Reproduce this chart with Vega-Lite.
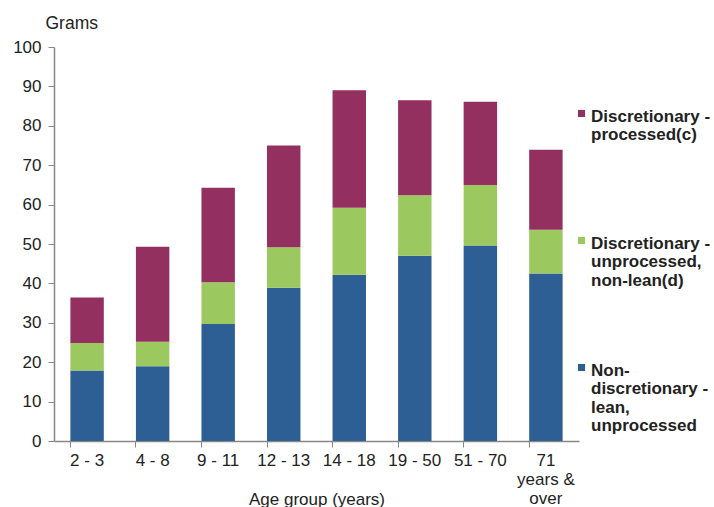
{
  "$schema": "https://vega.github.io/schema/vega-lite/v6.json",
  "width": 525,
  "height": 394,
  "autosize": {"type": "none"},
  "padding": {"left": 54, "top": 47, "right": 135, "bottom": 66},
  "background": "white",
  "config": {
    "view": {"stroke": null},
    "font": "Liberation Sans",
    "style": {"guide-label": {"lineHeight": 18.5}}
  },
  "data": {
    "values": [
      {"age": "2 - 3", "type": "Non-discretionary - lean, unprocessed", "grams": 17.9},
      {"age": "2 - 3", "type": "Discretionary - unprocessed, non-lean(d)", "grams": 7.0},
      {"age": "2 - 3", "type": "Discretionary - processed(c)", "grams": 11.5},
      {"age": "4 - 8", "type": "Non-discretionary - lean, unprocessed", "grams": 19.0},
      {"age": "4 - 8", "type": "Discretionary - unprocessed, non-lean(d)", "grams": 6.2},
      {"age": "4 - 8", "type": "Discretionary - processed(c)", "grams": 24.1},
      {"age": "9 - 11", "type": "Non-discretionary - lean, unprocessed", "grams": 29.7},
      {"age": "9 - 11", "type": "Discretionary - unprocessed, non-lean(d)", "grams": 10.6},
      {"age": "9 - 11", "type": "Discretionary - processed(c)", "grams": 24.0},
      {"age": "12 - 13", "type": "Non-discretionary - lean, unprocessed", "grams": 38.9},
      {"age": "12 - 13", "type": "Discretionary - unprocessed, non-lean(d)", "grams": 10.3},
      {"age": "12 - 13", "type": "Discretionary - processed(c)", "grams": 25.8},
      {"age": "14 - 18", "type": "Non-discretionary - lean, unprocessed", "grams": 42.2},
      {"age": "14 - 18", "type": "Discretionary - unprocessed, non-lean(d)", "grams": 17.0},
      {"age": "14 - 18", "type": "Discretionary - processed(c)", "grams": 29.8},
      {"age": "19 - 50", "type": "Non-discretionary - lean, unprocessed", "grams": 47.0},
      {"age": "19 - 50", "type": "Discretionary - unprocessed, non-lean(d)", "grams": 15.4},
      {"age": "19 - 50", "type": "Discretionary - processed(c)", "grams": 24.1},
      {"age": "51 - 70", "type": "Non-discretionary - lean, unprocessed", "grams": 49.6},
      {"age": "51 - 70", "type": "Discretionary - unprocessed, non-lean(d)", "grams": 15.4},
      {"age": "51 - 70", "type": "Discretionary - processed(c)", "grams": 21.1},
      {"age": "71 years & over", "type": "Non-discretionary - lean, unprocessed", "grams": 42.5},
      {"age": "71 years & over", "type": "Discretionary - unprocessed, non-lean(d)", "grams": 11.1},
      {"age": "71 years & over", "type": "Discretionary - processed(c)", "grams": 20.3}
    ]
  },
  "mark": {"type": "bar"},
  "encoding": {
    "x": {
      "field": "age",
      "type": "nominal",
      "sort": null,
      "scale": {"paddingInner": 0.49, "paddingOuter": 0.25},
      "axis": {
        "title": "Age group (years)",
        "titleFont": "Liberation Sans",
        "titleFontSize": 17,
        "titleFontWeight": "normal",
        "titleColor": "#222",
        "titleBaseline": "alphabetic",
        "titleY": 63,
        "labelAngle": 0,
        "labelFont": "Liberation Sans",
        "labelFontSize": 17,
        "labelColor": "#222",
        "labelPadding": 5,
        "labelLineHeight": 19,
        "labelExpr": "datum.label == '71 years & over' ? ['71', 'years &', 'over'] : datum.label",
        "bandPosition": 0,
        "tickSize": 6,
        "tickColor": "#888",
        "domainColor": "#888",
        "domainWidth": 1.5,
        "grid": false
      }
    },
    "y": {
      "field": "grams",
      "type": "quantitative",
      "aggregate": "sum",
      "stack": "zero",
      "scale": {"domain": [0, 100], "nice": false},
      "axis": {
        "title": "Grams",
        "titleAngle": 0,
        "titleAlign": "left",
        "titleBaseline": "alphabetic",
        "titleX": -9,
        "titleY": -19,
        "titleFont": "Liberation Sans",
        "titleFontSize": 17.5,
        "titleFontWeight": "normal",
        "titleColor": "#222",
        "values": [0, 10, 20, 30, 40, 50, 60, 70, 80, 90, 100],
        "labelFont": "Liberation Sans",
        "labelFontSize": 17,
        "labelColor": "#222",
        "labelPadding": 7,
        "tickSize": 6,
        "tickColor": "#888",
        "domainColor": "#888",
        "domainWidth": 1.5,
        "grid": false
      }
    },
    "color": {
      "field": "type",
      "type": "nominal",
      "scale": {
        "domain": ["Discretionary - processed(c)", "Discretionary - unprocessed, non-lean(d)", "Non-discretionary - lean, unprocessed"],
        "range": ["#943060", "#9BC85F", "#2E5F94"]
      },
      "legend": {
        "title": null,
        "orient": "none",
        "legendX": 519,
        "legendY": 53,
        "symbolType": "M-1,0.41H1V2.41H-1Z",
        "symbolSize": 50,
        "symbolStrokeWidth": 0,
        "labelFont": "Liberation Sans",
        "labelFontSize": 17,
        "labelFontWeight": "bold",
        "labelColor": "#222",
        "labelBaseline": "top",
        "labelOffset": 1,
        "labelLimit": 200,
        "rowPadding": 47,
        "labelExpr": "datum.label == 'Discretionary - processed(c)' ? ['Discretionary -', 'processed(c)', ' ', ' '] : datum.label == 'Discretionary - unprocessed, non-lean(d)' ? ['Discretionary -', 'unprocessed,', 'non-lean(d)', ' '] : ['Non-', 'discretionary -', 'lean,', 'unprocessed']"
      }
    },
    "order": {"field": "type", "type": "nominal", "sort": "descending"}
  }
}
